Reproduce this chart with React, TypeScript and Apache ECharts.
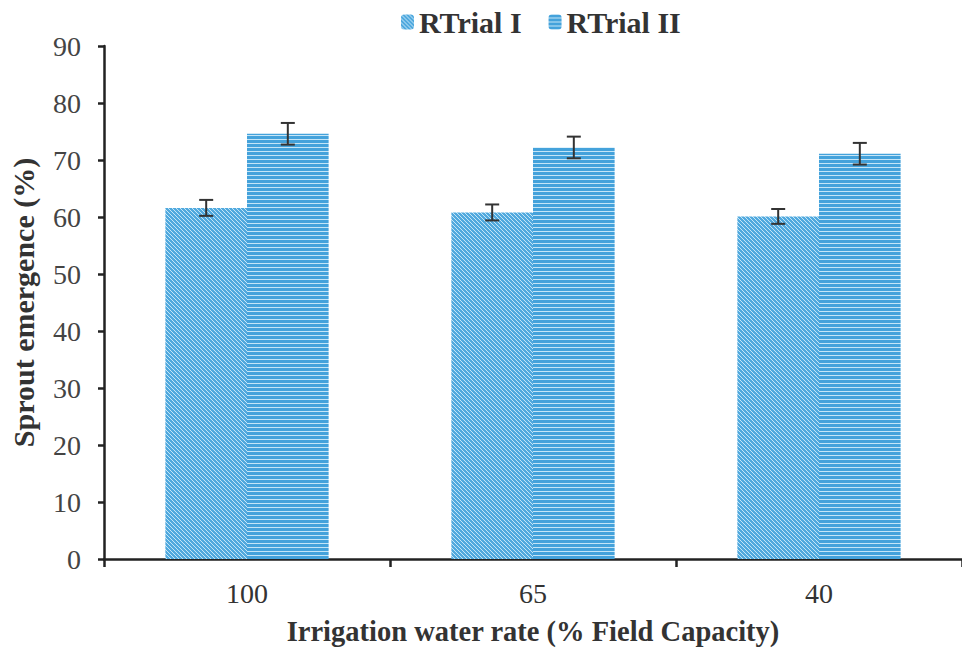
import React, { useEffect, useRef } from "react";
import * as echarts from "echarts";

const categories = ["100", "65", "40"];
const trialI = [61.6, 60.8, 60.1];
const trialII = [74.6, 72.2, 71.1];
const errI = [1.4, 1.4, 1.3];
const errII = [1.9, 1.9, 1.9];
const seriesNames = ["RTrial I", "RTrial II"];
const yTicks = [0, 10, 20, 30, 40, 50, 60, 70, 80, 90];

const FONT = "Liberation Serif";
const BAR_FRAC = 0.2854;

function makePattern(kind: "diag" | "horiz") {
  const n = 4;
  const c = document.createElement("canvas");
  c.width = n;
  c.height = n;
  const ctx = c.getContext("2d")!;
  for (let y = 0; y < n; y++) {
    for (let x = 0; x < n; x++) {
      let stripe: boolean;
      if (kind === "diag") stripe = (((x - y) % n) + n) % n === 0;
      else stripe = y === 3;
      ctx.fillStyle = stripe ? "#c4e5f7" : kind === "diag" ? "#50a9de" : "#44a2db";
      ctx.fillRect(x, y, 1, 1);
    }
  }
  return { image: c, repeat: "repeat" as const };
}

export default function App() {
  const ref = useRef<HTMLDivElement>(null);
  useEffect(() => {
    if (!ref.current) return;
    const chart = echarts.init(ref.current, undefined, { renderer: "svg" });
    const patI = makePattern("diag");
    const patII = makePattern("horiz");

    const errSeries = (vals: number[], errs: number[], side: number, name: string) => ({
      type: "custom",
      name: name + "_err",
      silent: true,
      z: 10,
      data: vals.map((v, i) => [i, v, errs[i]]),
      renderItem: (params: any, api: any) => {
        const i = api.value(0);
        const v = api.value(1);
        const e = api.value(2);
        const band = api.size([1, 0])[0];
        const off = (side * band * BAR_FRAC) / 2;
        const top = api.coord([i, v + e]);
        const bot = api.coord([i, v - e]);
        const x = top[0] + off;
        const cap = 7;
        const style = { stroke: "#333", lineWidth: 2 };
        return {
          type: "group",
          children: [
            { type: "line", shape: { x1: x, y1: top[1], x2: x, y2: bot[1] }, style },
            { type: "line", shape: { x1: x - cap, y1: top[1], x2: x + cap, y2: top[1] }, style },
            { type: "line", shape: { x1: x - cap, y1: bot[1], x2: x + cap, y2: bot[1] }, style },
          ],
        };
      },
    });

    chart.setOption({
      animation: false,
      backgroundColor: "#ffffff",
      legend: {
        data: seriesNames,
        top: 2,
        left: 396,
        itemWidth: 13,
        itemHeight: 15,
        itemGap: 27,
        textStyle: { fontFamily: FONT, fontSize: 30, fontWeight: "bold", color: "#333" },
      },
      grid: { left: 100, right: 0, top: 46, bottom: 92, containLabel: false },
      xAxis: {
        type: "category",
        data: categories,
        name: "Irrigation water rate (% Field Capacity)",
        nameLocation: "middle",
        nameGap: 58,
        nameTextStyle: { fontFamily: FONT, fontSize: 28.5, fontWeight: "bold", color: "#333" },
        axisLine: { lineStyle: { color: "#222", width: 2.5 } },
        axisTick: { show: true, length: 8, lineStyle: { color: "#222", width: 2.5 } },
        axisLabel: { fontFamily: FONT, fontSize: 28, color: "#333", margin: 20 },
      },
      yAxis: {
        type: "value",
        min: 0,
        max: 90,
        interval: 10,
        name: "Sprout emergence (%)",
        nameLocation: "middle",
        nameGap: 66,
        nameTextStyle: { fontFamily: FONT, fontSize: 30, fontWeight: "bold", color: "#333" },
        axisLine: { show: true, lineStyle: { color: "#222", width: 2.5 } },
        axisTick: { show: true, length: 6, lineStyle: { color: "#222", width: 2.5 } },
        axisLabel: {
          fontFamily: FONT,
          fontSize: 28,
          color: "#444",
          margin: 23,
          formatter: (v: number) => (yTicks.includes(v) ? String(v) : ""),
        },
        splitLine: { show: false },
      },
      series: [
        {
          type: "bar",
          name: seriesNames[0],
          data: trialI,
          barWidth: BAR_FRAC * 100 + "%",
          barGap: "0%",
          itemStyle: { color: patI },
        },
        {
          type: "bar",
          name: seriesNames[1],
          data: trialII,
          barWidth: BAR_FRAC * 100 + "%",
          barGap: "0%",
          itemStyle: { color: patII },
        },
        errSeries(trialI, errI, -1, seriesNames[0]),
        errSeries(trialII, errII, 1, seriesNames[1]),
      ],
    });
    return () => chart.dispose();
  }, []);
  return <div ref={ref} style={{ width: 962, height: 651, position: "absolute", left: 0, top: 0 }} />;
}
